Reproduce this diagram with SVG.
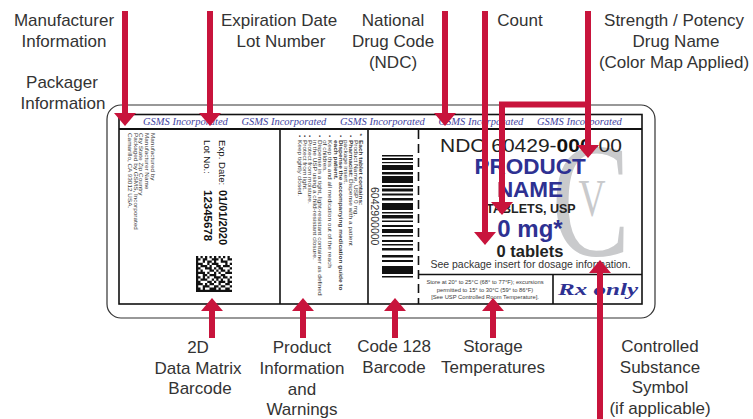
<svg xmlns="http://www.w3.org/2000/svg" width="753" height="419" viewBox="0 0 753 419">
<style>
.lbl{font-family:'Liberation Sans',Arial,sans-serif;font-size:17px;fill:#333;text-anchor:middle}
.gsms{font-family:'Liberation Serif','Times New Roman',serif;font-style:italic;font-size:10.5px;fill:#3f43a0}
.tiny{font-family:'Liberation Sans',Arial,sans-serif;font-size:5.6px;fill:#3a3a3a}
.sans{font-family:'Liberation Sans',Arial,sans-serif}
.b{font-weight:bold}
.ln{stroke:#111;stroke-width:1.6;fill:none}
.arr{fill:none;stroke:#c8143c;stroke-width:6;marker-end:url(#ah)}
.blue{fill:#2e3192}
</style>
<defs>
<marker id="ah" viewBox="0 0 13 22" refX="1" refY="11" markerWidth="13" markerHeight="22" markerUnits="userSpaceOnUse" orient="auto">
<path d="M0 0 L13 11 L0 22 Z" fill="#c8143c"/>
</marker>
</defs>
<rect width="753" height="419" fill="#fff"/>

<g id="top-labels">
<text class="lbl" x="64" y="26">Manufacturer</text>
<text class="lbl" x="64" y="47">Information</text>
<text class="lbl" x="62" y="88">Packager</text>
<text class="lbl" x="63" y="109">Information</text>
<text class="lbl" x="279" y="26">Expiration Date</text>
<text class="lbl" x="281" y="47">Lot Number</text>
<text class="lbl" x="393" y="26">National</text>
<text class="lbl" x="393" y="47">Drug Code</text>
<text class="lbl" x="393" y="68">(NDC)</text>
<text class="lbl" x="520" y="26">Count</text>
<text class="lbl" x="674" y="26">Strength / Potency</text>
<text class="lbl" x="676" y="47">Drug Name</text>
<text class="lbl" x="674" y="68">(Color Map Applied)</text>
</g>

<g id="label">
<rect x="107" y="105" width="548" height="213" rx="14" fill="#fff" stroke="#333" stroke-width="1.2"/>
<rect x="119" y="114.5" width="523" height="189.5" class="ln"/>
<line x1="119" y1="129" x2="642" y2="129" stroke="#111" stroke-width="2"/>
<line x1="280" y1="129" x2="280" y2="304" class="ln"/>
<line x1="368" y1="129" x2="368" y2="304" class="ln"/>
<line x1="418.5" y1="130" x2="418.5" y2="304" class="ln" stroke-dasharray="9 5"/>
<line x1="418.5" y1="274.5" x2="642" y2="274.5" class="ln"/>
<line x1="553" y1="274.5" x2="553" y2="304" class="ln"/>
</g>

<g id="gsms-band">
<text class="gsms" x="143" y="125">GSMS Incorporated</text>
<text class="gsms" x="241.5" y="125">GSMS Incorporated</text>
<text class="gsms" x="340" y="125">GSMS Incorporated</text>
<text class="gsms" x="438.5" y="125">GSMS Incorporated</text>
<text class="gsms" x="537" y="125">GSMS Incorporated</text>
</g>

<g id="manufacturer-info" transform="translate(151,133) rotate(90) scale(1.14,1)">
<text class="tiny" x="0" y="0">Manufactured by</text>
<text class="tiny" x="0" y="5.8">Manufacturer Name</text>
<text class="tiny" x="0" y="11.6">City State Zip Country</text>
<text class="tiny" x="0" y="17.4">Packaged by GSMS, Incorporated</text>
<text class="tiny" x="0" y="23.2">Camarillo, CA 93012 USA.</text>
</g>

<g id="expiration-lot" class="sans" fill="#111">
<g transform="translate(218.5,140) rotate(90)">
<text x="0" y="0" font-size="9.7">Exp. Date:</text>
<text x="50" y="0" font-size="11" class="b">01/01/2020</text>
</g>
<g transform="translate(203.5,140) rotate(90)">
<text x="0" y="0" font-size="9.7">Lot No.:</text>
<text x="50" y="0" font-size="11.5" class="b">12345678</text>
</g>
</g>

<g id="data-matrix" transform="translate(196,256) scale(2.25)" fill="#111">
<path d="M0 0h1v1h-1zM2 0h1v1h-1zM4 0h1v1h-1zM6 0h1v1h-1zM8 0h1v1h-1zM10 0h1v1h-1zM12 0h1v1h-1zM14 0h1v1h-1z
M0 1h2v1h-2zM3 1h2v1h-2zM7 1h3v1h-3zM11 1h1v1h-1zM14 1h2v1h-2z
M0 2h1v1h-1zM3 2h1v1h-1zM5 2h2v1h-2zM8 2h1v1h-1zM11 2h3v1h-3z
M0 3h3v1h-3zM5 3h1v1h-1zM7 3h3v1h-3zM13 3h1v1h-1zM15 3h1v1h-1z
M0 4h1v1h-1zM2 4h3v1h-3zM6 4h1v1h-1zM9 4h2v1h-2zM12 4h3v1h-3z
M0 5h2v1h-2zM4 5h3v1h-3zM8 5h1v1h-1zM10 5h2v1h-2zM15 5h1v1h-1z
M0 6h1v1h-1zM2 6h1v1h-1zM6 6h2v1h-2zM9 6h1v1h-1zM11 6h2v1h-2zM14 6h1v1h-1z
M0 7h4v1h-4zM5 7h1v1h-1zM8 7h1v1h-1zM10 7h1v1h-1zM13 7h3v1h-3z
M0 8h1v1h-1zM3 8h2v1h-2zM6 8h3v1h-3zM11 8h2v1h-2z
M0 9h2v1h-2zM3 9h1v1h-1zM5 9h1v1h-1zM8 9h3v1h-3zM12 9h2v1h-2zM15 9h1v1h-1z
M0 10h1v1h-1zM2 10h3v1h-3zM7 10h1v1h-1zM9 10h1v1h-1zM11 10h1v1h-1zM14 10h1v1h-1z
M0 11h2v1h-2zM5 11h2v1h-2zM8 11h1v1h-1zM10 11h3v1h-3zM14 11h2v1h-2z
M0 12h3v1h-3zM4 12h1v1h-1zM6 12h2v1h-2zM10 12h1v1h-1zM13 12h2v1h-2z
M0 13h1v1h-1zM3 13h3v1h-3zM8 13h2v1h-2zM11 13h2v1h-2zM15 13h1v1h-1z
M0 14h2v1h-2zM3 14h1v1h-1zM6 14h3v1h-3zM10 14h1v1h-1zM13 14h2v1h-2z
M0 15h16v1h-16z"/>
</g>

<g id="product-info" transform="translate(359,140) rotate(90) scale(1.16,1)">
<text class="tiny b" x="-5.5" y="1" font-size="8">*</text>
<text class="tiny b" x="0" y="0">Each tablet contains:</text>
<text class="tiny" x="0" y="5.1">Product Name, USP 0 mg.</text>
<text class="tiny" x="-4.3" y="10.2">•</text>
<text class="tiny" x="0" y="10.2"><tspan class="b">Pharmacist:</tspan> Dispense with a patient</text>
<text class="tiny" x="0" y="15.3">package insert.</text>
<text class="tiny" x="-4.3" y="20.4">•</text>
<text class="tiny b" x="0" y="20.4">Dispense the accompanying medication guide to</text>
<text class="tiny b" x="0" y="25.5">each patient.</text>
<text class="tiny" x="-4.3" y="30.6">•</text>
<text class="tiny" x="0" y="30.6">Keep this and all medication out of the reach</text>
<text class="tiny" x="0" y="35.7">of children.</text>
<text class="tiny" x="-4.3" y="40.8">•</text>
<text class="tiny" x="0" y="40.8">Dispense in a tight, light-resistant container as defined</text>
<text class="tiny" x="0" y="45.9">in the USP using a child-resistant closure.</text>
<text class="tiny" x="-4.3" y="51">•</text>
<text class="tiny" x="0" y="51">Protect from moisture.</text>
<text class="tiny" x="-4.3" y="56.1">•</text>
<text class="tiny" x="0" y="56.1">Protect from light.</text>
<text class="tiny" x="-4.3" y="61.2">•</text>
<text class="tiny" x="0" y="61.2">Keep tightly closed.</text>
</g>

<g id="code128">
<text class="sans" transform="translate(371.2,187) rotate(90)" font-size="10.5" fill="#333">6042900000</text>
<g fill="#111">
<rect x="382" y="155" width="31" height="1.5"/>
<rect x="382" y="158" width="31" height="2"/>
<rect x="382" y="162" width="31" height="1.2"/>
<rect x="382" y="165" width="31" height="5"/>
<rect x="382" y="172" width="31" height="2.5"/>
<rect x="382" y="176" width="31" height="7"/>
<rect x="382" y="185" width="31" height="2"/>
<rect x="382" y="188.5" width="31" height="3"/>
<rect x="382" y="193.5" width="31" height="2"/>
<rect x="382" y="198" width="31" height="2.5"/>
<rect x="382" y="203" width="31" height="7"/>
<rect x="382" y="212" width="31" height="1.5"/>
<rect x="382" y="215" width="31" height="3.5"/>
<rect x="382" y="220.5" width="31" height="1.5"/>
<rect x="382" y="225" width="31" height="2"/>
<rect x="382" y="229" width="31" height="4"/>
<rect x="382" y="235" width="31" height="1.5"/>
<rect x="382" y="240" width="31" height="2"/>
<rect x="382" y="244" width="31" height="1.5"/>
<rect x="382" y="248" width="31" height="2.5"/>
<rect x="382" y="255" width="31" height="2.5"/>
<rect x="382" y="260" width="31" height="2"/>
<rect x="382" y="266" width="31" height="8"/>
<rect x="382" y="276" width="31" height="1.5"/>
</g>
</g>

<g id="controlled-symbol" fill="#c9cacc" font-family="'Liberation Serif','Times New Roman',serif" text-anchor="middle">
<text transform="translate(591,255) scale(0.72,1)" font-size="163">C</text>
<text transform="translate(592,216) scale(0.72,1)" font-size="52">V</text>
</g>

<g id="main-panel" class="sans" text-anchor="middle">
<text x="440" y="152" font-size="18" fill="#222" text-anchor="start" textLength="116.6" lengthAdjust="spacingAndGlyphs">NDC 60429-</text>
<text x="556.6" y="152" font-size="18" fill="#111" class="b" text-anchor="start" textLength="35" lengthAdjust="spacingAndGlyphs">000</text>
<text x="591.6" y="152" font-size="18" fill="#222" text-anchor="start" textLength="30.4" lengthAdjust="spacingAndGlyphs">-00</text>
<text x="530" y="174" font-size="22.5" class="b blue">PRODUCT</text>
<text x="530" y="197" font-size="22.5" class="b blue">NAME</text>
<text x="531" y="213" font-size="12.5" class="b" fill="#222">TABLETS, USP</text>
<text x="530" y="237" font-size="24" class="b blue">0 mg*</text>
<text x="530" y="257" font-size="16.5" class="b" fill="#222">0 tablets</text>
<text x="530.5" y="268" font-size="10.5" fill="#333">See package insert for dosage information.</text>
</g>

<g id="storage" class="tiny" text-anchor="middle" font-size="5.8">
<text x="485" y="284" font-size="5.8">Store at 20° to 25°C (68° to 77°F); excursions</text>
<text x="485" y="291.5" font-size="5.8">permitted to 15° to 30°C (59° to 86°F)</text>
<text x="485" y="299" font-size="5.8">[See USP Controlled Room Temperature].</text>
</g>

<g id="rx-only">
<text x="558" y="295" font-family="'Liberation Serif','Times New Roman',serif" font-style="italic" font-weight="bold" font-size="17" class="blue" textLength="80" lengthAdjust="spacingAndGlyphs">Rx only</text>
</g>

<g id="bottom-labels">
<text class="lbl" x="198" y="353">2D</text>
<text class="lbl" x="198" y="374">Data Matrix</text>
<text class="lbl" x="200" y="394">Barcode</text>
<text class="lbl" x="302" y="353">Product</text>
<text class="lbl" x="302" y="374">Information</text>
<text class="lbl" x="302" y="395">and</text>
<text class="lbl" x="302" y="415">Warnings</text>
<text class="lbl" x="394" y="352">Code 128</text>
<text class="lbl" x="394" y="373">Barcode</text>
<text class="lbl" x="493" y="352">Storage</text>
<text class="lbl" x="493" y="373">Temperatures</text>
<text class="lbl" x="660" y="352">Controlled</text>
<text class="lbl" x="660" y="373">Substance</text>
<text class="lbl" x="660" y="393">Symbol</text>
<text class="lbl" x="660" y="414">(if applicable)</text>
</g>

<g id="connectors">
<path class="arr" d="M125 11V114"/>
<path class="arr" d="M210 11V114"/>
<path class="arr" d="M445 11V114"/>
<path class="arr" d="M485 11V233"/>
<path class="arr" d="M588 11V146"/>
<path class="arr" d="M588 104.5H502V203"/>
<path class="arr" d="M212 338V310"/>
<path class="arr" d="M303 338V310"/>
<path class="arr" d="M395 338V310"/>
<path class="arr" d="M493 338V310"/>
<path class="arr" d="M600 419V272"/>
</g>
</svg>
